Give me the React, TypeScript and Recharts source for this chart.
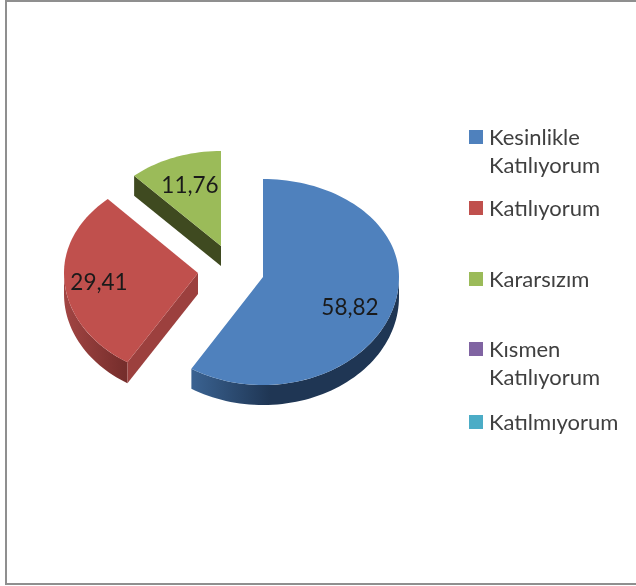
import { Legend, Pie, PieChart } from 'recharts'

const categories = ['Kesinlikle Katılıyorum', 'Katılıyorum', 'Kararsızım', 'Kısmen Katılıyorum', 'Katılmıyorum']
const values = [58.82, 29.41, 11.76, 0, 0]
const colors = ['#4f81bd', '#c0504d', '#9bbb59', '#8064a2', '#4bacc6']
const labels = ['58,82', '29,41', '11,76', '', '']

const rows = categories.map((name, i) => ({ name, value: values[i], fill: colors[i] }))

// explode offsets and the squashed pie shape for each slice
const sliceShape = [
  { dx: 0, dy: 0, rx: 136, top: 98, bottom: 108, depth: 20, labelDx: 87, labelDy: 29 },
  { dx: -65, dy: -4, rx: 134, top: 100, bottom: 105, depth: 21, labelDx: -99, labelDy: 8 },
  { dx: -42, dy: -31, rx: 129, top: 95, bottom: 96, depth: 20, labelDx: -31, labelDy: -62 },
]
const legendTops = [122, 193, 264, 334, 407]
const wallFills = [
  { start: '#3a6291', end: '#1f3654', edge: '#1f3654' },
  { start: '#a24543', end: '#762e2c', edge: '#9c403e' },
  { start: '#3f4a20', end: '#3f4a20', edge: '#3f4a20' },
]

const CX = 263
const CY = 277
const font = 'Lato, "Open Sans", sans-serif'
const textBlur = 'blur(0.4px)'

function SliceShape(props: any) {
  const { startAngle, endAngle, fill, cx, cy, index } = props
  const shape = sliceShape[index]
  if (!shape || startAngle === endAngle) return null

  const from = 90 - startAngle
  const to = 90 - endAngle
  const ox = cx + shape.dx
  const oy = cy + shape.dy
  const at = (deg: number): [number, number] => {
    const rad = (deg * Math.PI) / 180
    const c = Math.cos(rad)
    return [ox + shape.rx * Math.sin(rad), oy - (c > 0 ? shape.top : shape.bottom) * c]
  }
  const arc = (a: number, b: number) => {
    const pts: [number, number][] = []
    const n = Math.max(2, Math.ceil(Math.abs(b - a) / 2))
    for (let i = 0; i <= n; i++) pts.push(at(a + ((b - a) * i) / n))
    return pts
  }
  const toPath = (pts: [number, number][]) =>
    pts.map((p, i) => `${i ? 'L' : 'M'}${p[0].toFixed(2)},${p[1].toFixed(2)}`).join('') + 'Z'

  const wall = wallFills[index]
  const gradId = `wall-${index}`
  const frontFrom = Math.max(from, 90)
  const frontTo = Math.min(to, 270)
  const front =
    frontTo > frontFrom ? arc(frontFrom, frontTo) : null
  const startFaces = Math.sin((from * Math.PI) / 180) < 0

  return (
    <g>
      <defs>
        <linearGradient id={gradId} gradientUnits="userSpaceOnUse" x1={index === 0 ? 192 : 64} x2={index === 0 ? 270 : 124} y1="0" y2="0">
          <stop offset="0" stopColor={wall.start} />
          <stop offset="1" stopColor={wall.end} />
        </linearGradient>
      </defs>
      {front && (
        <path
          d={toPath([
            ...front,
            ...[...front].reverse().map((p) => [p[0], p[1] + shape.depth] as [number, number]),
          ])}
          fill={`url(#${gradId})`}
        />
      )}
      {startFaces && (
        <path
          d={toPath([
            [ox, oy],
            at(from),
            [at(from)[0], at(from)[1] + shape.depth],
            [ox, oy + shape.depth],
          ])}
          fill={wall.edge}
        />
      )}
      <path d={toPath([[ox, oy], ...arc(from, to)])} fill={fill} />
    </g>
  )
}

function SliceLabel(props: any) {
  const { cx, cy, index } = props
  const shape = sliceShape[index]
  if (!shape || !labels[index]) return null
  return (
    <text
      x={cx + shape.dx + shape.labelDx}
      y={cy + shape.dy + shape.labelDy}
      textAnchor="middle"
      dominantBaseline="central"
      fontFamily={font}
      fontSize={22.5}
      fill="#1a1a1a"
      style={{ filter: textBlur }}
    >
      {labels[index]}
    </text>
  )
}

function LegendRows() {
  return (
    <div style={{ position: 'relative', width: 167, height: 330 }}>
      {rows.map((row, i) => (
        <div key={row.name} style={{ position: 'absolute', left: 0, top: legendTops[i] - 122, width: 167 }}>
          <span
            style={{ position: 'absolute', left: 0, top: 8, width: 14, height: 14, background: row.fill }}
          />
          <div
            style={{
              marginLeft: 20,
              paddingTop: 1,
              width: 147,
              fontFamily: font,
              fontSize: 22,
              lineHeight: '28px',
              color: '#404040',
              filter: textBlur,
            }}
          >
            {row.name === 'Kesinlikle Katılıyorum' || row.name === 'Kısmen Katılıyorum' ? (
              <>
                {row.name.split(' ')[0]}
                <br />
                {row.name.split(' ')[1]}
              </>
            ) : (
              row.name
            )}
          </div>
        </div>
      ))}
    </div>
  )
}

export default function App() {
  return (
    <div style={{ position: 'fixed', left: 0, top: 0, width: 636, height: 586, background: '#fff', overflow: 'hidden' }}>
      <div
        style={{
          position: 'absolute',
          left: 5,
          top: 0,
          width: 631,
          height: 585,
          boxSizing: 'border-box',
          borderTop: '2px solid #8f8f8f',
          borderLeft: '2px solid #8f8f8f',
          borderBottom: '2px solid #8f8f8f',
        }}
      />
      <PieChart
        width={636}
        height={586}
        margin={{ top: 0, right: 0, bottom: 0, left: 0 }}
        style={{ position: 'absolute', left: 0, top: 0 }}
      >
        <Pie
          data={rows}
          dataKey="value"
          nameKey="name"
          cx={CX}
          cy={CY}
          outerRadius={136}
          startAngle={90}
          endAngle={-270}
          stroke="none"
          shape={SliceShape}
          label={SliceLabel}
          labelLine={false}
          isAnimationActive={false}
        />
        <Legend
          content={<LegendRows />}
          wrapperStyle={{ position: 'absolute', left: 469, top: 122, width: 167, height: 330 }}
        />
      </PieChart>
    </div>
  )
}
